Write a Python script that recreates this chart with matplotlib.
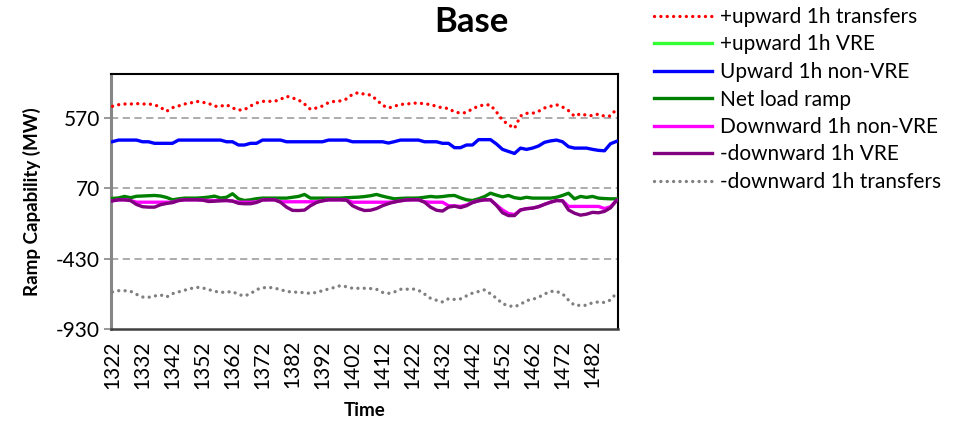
import matplotlib
matplotlib.use("Agg")
import matplotlib.pyplot as plt
from matplotlib.lines import Line2D

plt.rcParams['font.family'] = ['Lato', 'DejaVu Sans']

# ---------------- data ----------------
time = list(range(1322, 1491, 2))
xticks = list(range(1322, 1483, 10))
yticks = [-930, -430, 70, 570]

up_transfers = [651, 662, 667, 667, 670, 667, 667, 662, 643, 615,
                641, 653, 667, 674, 686, 679, 672, 651, 651, 662,
                639, 624, 627, 653, 674, 686, 686, 686, 700, 722,
                710, 696, 667, 629, 639, 653, 677, 686, 689, 703,
                736, 748, 736, 731, 698, 658, 639, 651, 665, 665,
                674, 672, 670, 662, 651, 639, 636, 610, 603, 606,
                634, 651, 662, 660, 610, 552, 520, 494, 582, 601,
                601, 615, 639, 651, 662, 646, 620, 580, 598, 587,
                584, 596, 580, 582, 632]

up_nonvre = [400, 411, 411, 411, 411, 399, 399, 388, 388, 388,
             388, 411, 411, 411, 411, 411, 411, 411, 411, 399,
             399, 376, 376, 388, 388, 411, 411, 411, 411, 399,
             399, 399, 399, 399, 399, 399, 411, 411, 411, 411,
             399, 399, 399, 399, 399, 399, 390, 400, 411, 411,
             411, 411, 399, 399, 399, 388, 388, 357, 357, 376,
             376, 414, 414, 414, 383, 345, 330, 316, 354, 345,
             354, 369, 395, 405, 411, 399, 364, 354, 354, 354,
             345, 338, 335, 385, 402]

net_load = [-3, 0, 11, 2, 12, 14, 16, 18, 14, 4,
            -13, -6, -1, -1, -1, 2, 6, 13, 0, 5,
            30, -6, -18, -13, -5, -1, -1, -1, -1, -1,
            5, 11, 25, -1, -1, -1, -1, -1, -1, 2,
            4, 6, 10, 16, 25, 13, 3, -6, -3, -1,
            -1, 0, 5, 11, 7, 10, 16, 18, 1, -13,
            -18, -6, 10, 34, 20, 8, 18, 2, -4, 5,
            -1, -1, -1, -1, 5, 18, 34, -6, 11, 4,
            11, -1, -4, -6, -6]

down_nonvre = [-20, -13, -13, -18, -30, -30, -30, -30, -30, -30,
               -30, -18, -13, -13, -13, -15, -18, -18, -18, -18,
               -22, -30, -30, -30, -28, -14, -13, -13, -27, -27,
               -27, -27, -27, -27, -27, -20, -13, -13, -13, -15,
               -30, -30, -30, -30, -30, -30, -30, -28, -20, -14,
               -13, -13, -27, -30, -30, -30, -55, -56, -60, -50,
               -30, -20, -13, -13, -50, -85, -110, -118, -85, -76,
               -72, -62, -45, -30, -18, -20, -60, -60, -60, -60,
               -60, -60, -75, -62, -18]

down_vre = [-20, -13, -13, -18, -46, -62, -65, -65, -48, -39,
            -33, -18, -13, -13, -13, -15, -25, -23, -20, -18,
            -22, -38, -41, -41, -32, -14, -13, -13, -30, -65,
            -88, -89, -86, -55, -32, -20, -13, -13, -13, -15,
            -55, -75, -89, -87, -75, -55, -40, -28, -20, -14,
            -13, -13, -30, -65, -87, -93, -65, -58, -68, -55,
            -33, -20, -13, -13, -53, -105, -125, -125, -85, -76,
            -72, -62, -45, -30, -18, -20, -85, -108, -122, -115,
            -102, -105, -95, -70, -18]

down_transfers = [-667, -658, -658, -662, -684, -703, -705, -696, -688, -703,
                  -679, -667, -655, -643, -634, -638, -650, -662, -670, -668,
                  -664, -686, -695, -680, -650, -638, -634, -640, -650, -664,
                  -667, -670, -672, -678, -670, -658, -646, -635, -622, -630,
                  -641, -641, -641, -643, -648, -670, -677, -667, -648, -648,
                  -645, -655, -682, -712, -726, -738, -715, -720, -716, -695,
                  -675, -664, -652, -680, -712, -750, -765, -772, -755, -728,
                  -720, -705, -682, -663, -663, -680, -725, -762, -762, -762,
                  -743, -738, -742, -724, -675]

labels = ['+upward 1h transfers', '+upward 1h VRE', 'Upward 1h non-VRE',
          'Net load ramp', 'Downward 1h non-VRE', '-downward 1h VRE',
          '-downward 1h transfers']
colors = ['#FF0000', '#33FF33', '#0000FF', '#008000', '#FF00FF', '#800080', '#808080']

# ---------------- figure ----------------
W, H = 958, 421
fig = plt.figure(figsize=(W / 100, H / 100), dpi=100)
ax = fig.add_axes([111 / W, 1 - 329 / H, (618 - 111) / W, (329 - 74) / H])

lw = 2.4
dot = (0, (0.01, 1.9))
ax.plot(time, up_transfers, color=colors[0], lw=lw, linestyle=dot,
        dash_capstyle='round', zorder=3)
ax.plot(time, up_nonvre, color=colors[2], lw=lw, zorder=3, solid_joinstyle='round')
ax.plot(time, net_load, color=colors[3], lw=lw, zorder=3, solid_joinstyle='round')
ax.plot(time, down_nonvre, color=colors[4], lw=lw, zorder=3, solid_joinstyle='round')
ax.plot(time, down_vre, color=colors[5], lw=lw, zorder=3, solid_joinstyle='round')
ax.plot(time, down_transfers, color=colors[6], lw=lw, linestyle=dot,
        dash_capstyle='round', zorder=3)

ax.set_xlim(1321.5, 1490.5)
ax.set_ylim(-930, 880)
ax.set_yticks(yticks)
ax.set_yticklabels([str(v) for v in yticks], fontsize=15)
ax.set_xticks(xticks)
ax.set_xticklabels([str(v) for v in xticks], rotation=90, fontsize=15)
ax.tick_params(axis='y', length=5, width=1.2, color='#868686', pad=3)
ax.tick_params(axis='x', length=0, pad=8)

for yv in yticks[1:]:
    ax.axhline(yv, color='#A6A6A6', lw=1.3, linestyle=(0, (4, 2.5)), zorder=1)

for side in ['top', 'right']:
    ax.spines[side].set_color('black')
    ax.spines[side].set_linewidth(1.5)
ax.spines['left'].set_color('#868686')
ax.spines['left'].set_linewidth(2.2)
ax.spines['bottom'].set_color('#404040')
ax.spines['bottom'].set_linewidth(1.8)

ax.set_ylabel('Ramp Capability (MW)', fontsize=13.5, fontweight='bold', labelpad=11)
ax.set_xlabel('Time', fontsize=13.5, fontweight='bold', labelpad=10)

fig.text(471 / W, 1 - 22 / H, 'Base', fontsize=25, fontweight='bold',
         ha='center', va='center')

handles = []
for lab, col in zip(labels, colors):
    if 'transfers' in lab:
        h = Line2D([], [], color=col, lw=lw, linestyle=dot, dash_capstyle='round')
    else:
        h = Line2D([], [], color=col, lw=lw)
    handles.append(h)

fig.legend(handles, labels, loc='upper left', bbox_to_anchor=(654 / W, 1 - 7 / H),
           frameon=False, fontsize=15, handlelength=2.8, handletextpad=0.35,
           labelspacing=0.36, borderpad=0, borderaxespad=0)

fig.savefig('out.png', dpi=100)
